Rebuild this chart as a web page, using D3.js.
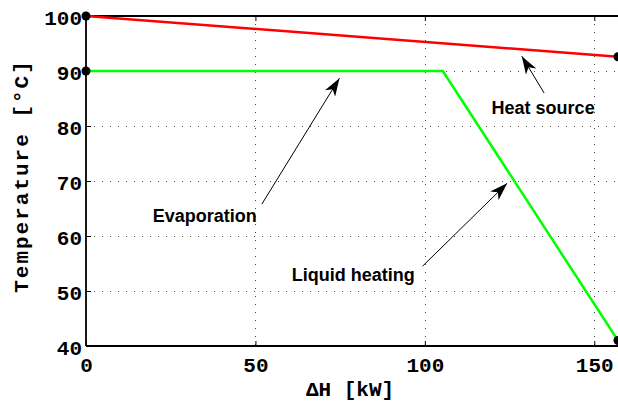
<!DOCTYPE html>
<html>
<head>
<meta charset="utf-8">
<script src="https://cdn.jsdelivr.net/npm/d3@7/dist/d3.min.js"></script>
<style>
  html, body { margin: 0; padding: 0; background: #fff; }
  svg { display: block; }
</style>
</head>
<body>
<svg id="chart" width="618" height="403"></svg>
<script>
// Heat duty vs. temperature: heat source line and the working fluid's heating/evaporation profile
const xTicks = [0, 50, 100, 150];
const yTicks = [40, 50, 60, 70, 80, 90, 100];
const xDomain = [0, 157];
const yDomain = [40, 100];

const heatSourceX = [0, 157];
const heatSourceY = [100, 92.6];

const fluidX = [0, 105.3, 157];
const fluidY = [90, 90, 41];

const markerX = [0, 0, 157, 157];
const markerY = [100, 90, 92.6, 41];

// annotations: label, label anchor (data coords), arrow tail, arrow tip (data coords)
const noteLabels = ["Heat source", "Evaporation", "Liquid heating"];
const noteLabelX = [119.7, 19.7, 60.7];
const noteLabelY = [82.2, 62.5, 51.8];
const noteTailX = [135.2, 51.9, 99.3];
const noteTailY = [86.0, 65.8, 54.5];
const noteTipX = [128.6, 74.8, 124.3];
const noteTipY = [92.7, 88.7, 69.6];

const svg = d3.select("#chart");
const mLeft = 86, mRight = 618, mTop = 16, mBottom = 346;

const x = d3.scaleLinear().domain(xDomain).range([mLeft, mRight]);
const y = d3.scaleLinear().domain(yDomain).range([mBottom, mTop]);

const mono = "'Liberation Mono', 'Courier New', monospace";
const sans = "'Liberation Sans', Arial, Helvetica, sans-serif";

// dotted grid
const grid = svg.append("g").attr("stroke", "#444").attr("stroke-width", 1)
  .attr("stroke-dasharray", "1,7").attr("shape-rendering", "crispEdges");
grid.selectAll("line.gx").data(xTicks.filter(d => d > 0)).join("line").attr("class", "gx")
  .attr("x1", d => Math.round(x(d)) + 0.5).attr("x2", d => Math.round(x(d)) + 0.5)
  .attr("y1", mTop).attr("y2", mBottom);
grid.selectAll("line.gy").data(yTicks.filter(d => d > 40 && d < 100)).join("line").attr("class", "gy")
  .attr("y1", d => Math.round(y(d)) + 0.5).attr("y2", d => Math.round(y(d)) + 0.5)
  .attr("x1", mLeft).attr("x2", mRight);

// axes (inward ticks, box style)
const axB = d3.axisBottom(x).tickValues(xTicks).tickSize(-5).tickPadding(11).tickFormat(d3.format("d"));
const axT = d3.axisTop(x).tickValues(xTicks).tickSize(-5).tickFormat("");
const axL = d3.axisLeft(y).tickValues(yTicks).tickSize(-5).tickPadding(4).tickFormat(d3.format("d"));

function styleAxis(g) {
  g.select(".domain").attr("stroke", "#000").attr("stroke-width", 1.8);
  g.selectAll(".tick line").attr("stroke", "#000").attr("stroke-width", 1);
  g.selectAll(".tick text").attr("font-family", mono).attr("font-size", 21)
    .attr("font-weight", "bold").attr("fill", "#000");
}
svg.append("g").attr("transform", `translate(0,${mBottom})`).call(axB).call(styleAxis)
  .call(g => g.select(".domain").attr("d", `M${mLeft},0H${mRight}`));
svg.append("g").attr("transform", `translate(0,${mTop})`).call(axT).call(styleAxis)
  .call(g => g.select(".domain").attr("d", `M${mLeft},0H${mRight}`));
svg.append("g").attr("transform", `translate(${mLeft},0)`).call(axL).call(styleAxis)
  .call(g => g.select(".domain").attr("d", `M0,${mTop}V${mBottom}`))
  .call(g => g.selectAll(".tick text").attr("dy", "0.42em"));

// axis titles
svg.append("text").attr("x", 350).attr("y", 396).attr("text-anchor", "middle")
  .attr("font-family", mono).attr("font-size", 21).attr("font-weight", "bold")
  .text("\u0394H [kW]");
svg.append("text").attr("transform", `translate(28,176) rotate(-90)`)
  .attr("text-anchor", "middle")
  .attr("font-family", mono).attr("font-size", 21).attr("font-weight", "bold")
  .attr("letter-spacing", 2)
  .text("Temperature [\u00B0C]");

// curves
const line = d3.line().x(d => x(d[0])).y(d => y(d[1]));
svg.append("path").datum(d3.zip(fluidX, fluidY)).attr("d", line)
  .attr("fill", "none").attr("stroke", "#00ff00").attr("stroke-width", 2.5);
svg.append("path").datum(d3.zip(heatSourceX, heatSourceY)).attr("d", line)
  .attr("fill", "none").attr("stroke", "#ff0000").attr("stroke-width", 2.5);

// end-point markers
svg.append("g").selectAll("circle").data(d3.zip(markerX, markerY)).join("circle")
  .attr("cx", d => x(d[0])).attr("cy", d => y(d[1])).attr("r", 4.5).attr("fill", "#000");

// annotation arrows
const defs = svg.append("defs");
defs.append("marker").attr("id", "head").attr("viewBox", "0 0 18 12")
  .attr("refX", 18).attr("refY", 6).attr("markerWidth", 18).attr("markerHeight", 12)
  .attr("markerUnits", "userSpaceOnUse").attr("orient", "auto")
  .append("path").attr("d", "M0,0 L18,6 L0,12 L5,6 Z").attr("fill", "#000");

const notes = d3.range(noteLabels.length);
svg.append("g").selectAll("line").data(notes).join("line")
  .attr("x1", i => x(noteTailX[i])).attr("y1", i => y(noteTailY[i]))
  .attr("x2", i => x(noteTipX[i])).attr("y2", i => y(noteTipY[i]))
  .attr("stroke", "#000").attr("stroke-width", 1).attr("marker-end", "url(#head)");
svg.append("g").selectAll("text").data(notes).join("text")
  .attr("x", i => x(noteLabelX[i])).attr("y", i => y(noteLabelY[i]))
  .attr("font-family", sans).attr("font-size", 18).attr("font-weight", "bold")
  .text(i => noteLabels[i]);
</script>
</body>
</html>
